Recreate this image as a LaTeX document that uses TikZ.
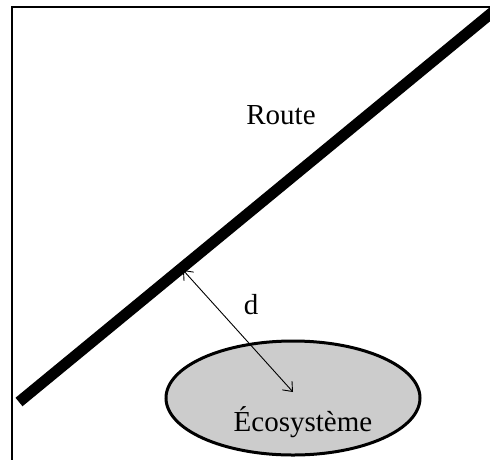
\documentclass[tikz,border=0pt]{standalone}
\usepackage{fontspec}
\setmainfont{Liberation Serif}
\usetikzlibrary{arrows.meta,positioning,shapes.geometric}
\tikzset{
  frameline/.style={line width=2pt, black},
  roadline/.style={line width=11pt, black},
  distarrow/.style={{Straight Barb[length=8pt,width=13pt]}-{Straight Barb[length=8pt,width=13pt]}, line width=0.9pt},
  ecozone/.style={ellipse, draw, line width=3pt, fill=black!20, minimum width=254pt, minimum height=114pt, inner sep=0pt},
  lbl/.style={font=\fontsize{29}{34}\selectfont, inner sep=0pt},
}

\begin{document}
\begin{tikzpicture}[x=1pt,y=-1pt]
\useasboundingbox (0,0) rectangle (490,459);
\clip (0,0) rectangle (490,459);
% frame
\coordinate (fbl) at (12,470);
\coordinate (ftl) at (12,7);
\coordinate (ftr) at (495,7);
\draw[frameline] (fbl) -- (ftl) -- (ftr);
% ecosystem
\node[ecozone] (eco) at (293,398) {};
\node[lbl, anchor=base] (ecolbl) at (303,431) {Écosystème};
% distance to the road
\coordinate (dfoot) at (183,270);
\coordinate (dtip) at (293,392);
\draw[distarrow] (dfoot) -- (dtip);
\node[lbl] (dlbl) at (251,305) {d};
% road
\coordinate (roadA) at (19,402);
\coordinate (roadB) at (500,6);
\draw[roadline] (roadA) -- (roadB);
\node[lbl] (roadlbl) at (281,115) {Route};
\end{tikzpicture}
\end{document}
